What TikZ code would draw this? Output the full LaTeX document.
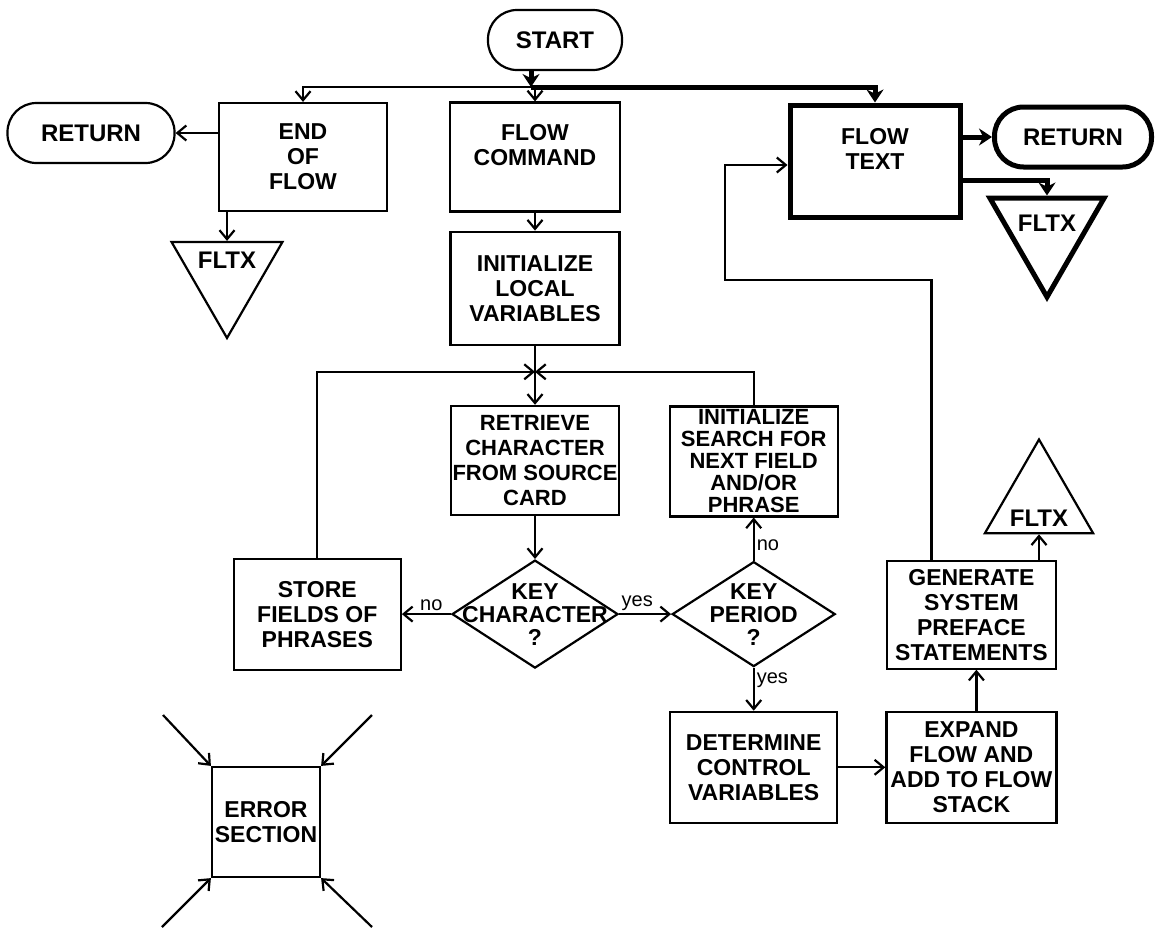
\documentclass[tikz,border=0pt]{standalone}
\usepackage{fontspec}
\setmainfont{Liberation Sans}
\usetikzlibrary{arrows.meta,positioning,shapes.geometric}

\begin{document}
\begin{tikzpicture}[
  x=1pt, y=-1pt,
  line width=2.2pt,
  box/.style={draw, align=center, inner sep=1pt, font=\bfseries\fontsize{23}{25}\selectfont},
  term/.style={box, rounded corners=29pt, minimum height=60pt, font=\bfseries\fontsize{24}{26}\selectfont},
  dec/.style={draw, diamond, inner sep=0pt},
  dtxt/.style={align=center, font=\bfseries\fontsize{23}{23}\selectfont},
  conn/.style={draw, regular polygon, regular polygon sides=3, inner sep=0pt},
  ctxt/.style={font=\bfseries\fontsize{24}{26}\selectfont},
  lbl/.style={font=\fontsize{20}{22}\selectfont, inner sep=2pt},
  arr/.style={-{Straight Barb[length=9pt,width=15pt]}},
  heavy/.style={line width=5pt},
  harr/.style={heavy, -{Stealth[length=13pt,width=17pt]}}
]
\useasboundingbox (0,0) rectangle (1157,929);

% top row
\node[term, minimum width=134pt] (start) at (555,40) {START};
\node[box, minimum width=168pt, minimum height=108pt] (eof) at (303,157) {END\\OF\\FLOW};
\node[term, minimum width=167pt] (rtnl) at (91,133) {RETURN};
\node[box, minimum width=170pt, minimum height=109pt] (fc) at (535,157) {FLOW\\COMMAND\\\mbox{}};
\node[box, heavy, minimum width=170pt, minimum height=112pt] (ft) at (875,161) {FLOW\\TEXT\\\mbox{}};
\node[term, heavy, minimum width=157pt] (rtnr) at (1073,137) {RETURN};
\node[conn, shape border rotate=180, minimum size=128pt,
  label={[ctxt, yshift=14pt]center:FLTX}] (fltxl) at (227,274) {};
\node[conn, heavy, shape border rotate=180, minimum size=132pt,
  label={[ctxt, yshift=8pt]center:FLTX}] (fltxr) at (1047,231) {};

% main column and loop
\node[box, minimum width=169pt, minimum height=113pt, below=18pt of fc] (ilv) {INITIALIZE\\LOCAL\\VARIABLES};
\node[box, minimum width=168pt, minimum height=109pt, below=59pt of ilv,
  font=\bfseries\fontsize{22}{25}\selectfont] (rsc) {RETRIEVE\\CHARACTER\\FROM SOURCE\\CARD};
\node[dec, minimum width=166pt, minimum height=108pt, below=43pt of rsc,
  label={[dtxt]center:{KEY\\CHARACTER\\?}}] (kchar) {};
\node[box, minimum width=167pt, minimum height=111pt, left=49pt of kchar] (store) {STORE\\FIELDS OF\\PHRASES};
\node[dec, minimum width=163pt, minimum height=105pt, right=52pt of kchar,
  label={[dtxt]center:{KEY\\PERIOD\\?}}] (kper) {};
\node[box, minimum width=168pt, minimum height=110pt, above=43pt of kper,
  font=\bfseries\fontsize{22}{22}\selectfont] (isf) {INITIALIZE\\SEARCH FOR\\NEXT FIELD\\AND/OR\\PHRASE};
\node[box, minimum width=167pt, minimum height=111pt, below=43pt of kper] (dcv) {DETERMINE\\CONTROL\\VARIABLES};
\node[box, minimum width=170pt, minimum height=111pt, right=47pt of dcv] (expd) {EXPAND\\FLOW AND\\ADD TO FLOW\\STACK};
\node[box, minimum width=169pt, minimum height=108pt, above=41pt of expd] (gsp) {GENERATE\\SYSTEM\\PREFACE\\STATEMENTS};
\node[conn, minimum size=125pt,
  label={[ctxt, yshift=-16pt]center:FLTX}] (fltxu) at (1039,502) {};

\node[box, minimum width=108pt, minimum height=110pt] (err) at (266,822) {ERROR\\SECTION};

\coordinate (bus) at (531,87);
\coordinate[below=26pt of ilv] (jn);
\coordinate (fb) at (725,280);
\coordinate (e1) at (163,715);
\coordinate (e2) at (372,715);
\coordinate (e3) at (162,927);
\coordinate (e4) at (372,927);

\draw[harr] (start.south -| bus) -- (bus);
\draw[harr] (bus) -| (ft.north);
\draw[arr] (bus) -| (eof.north);
\draw[arr] (fc.north |- bus) -- (fc.north);
\draw[arr] (eof.west |- rtnl) -- (rtnl.east);
\draw[arr] (eof.south -| fltxl) -- (fltxl.90);
\draw[harr] (ft.east |- rtnr) -- (rtnr.west);
\draw[harr] ([yshift=-19pt]ft.east) -| (fltxr.90);
\draw[arr] (fc) -- (ilv);
\draw[arr] (ilv) -- (rsc);
\draw[arr] (store.north) |- (jn);
\draw[arr] (isf.north) |- (jn);
\draw[arr] (rsc) -- (kchar);
\draw[arr] (kchar) -- node[lbl, above, pos=.4] {no} (store);
\draw[arr] (kchar) -- node[lbl, above, pos=.35] {yes} (kper);
\draw[arr] (kper) -- node[lbl, right, pos=.35] {no} (isf);
\draw[arr] (kper) -- node[lbl, right, pos=.3] {yes} (dcv);
\draw[arr] (dcv) -- (expd);
\draw[arr] ([xshift=5pt]expd.north) -- ([xshift=5pt]gsp.south);
\draw[arr] (gsp.north -| fltxu) -- (fltxu.-90);
\draw[arr] ([xshift=-40pt]gsp.north) |- (fb) |- ([yshift=-4pt]ft.west);
\draw[arr] (e1) -- (err.north west);
\draw[arr] (e2) -- (err.north east);
\draw[arr] (e3) -- (err.south west);
\draw[arr] (e4) -- (err.south east);
\end{tikzpicture}
\end{document}
